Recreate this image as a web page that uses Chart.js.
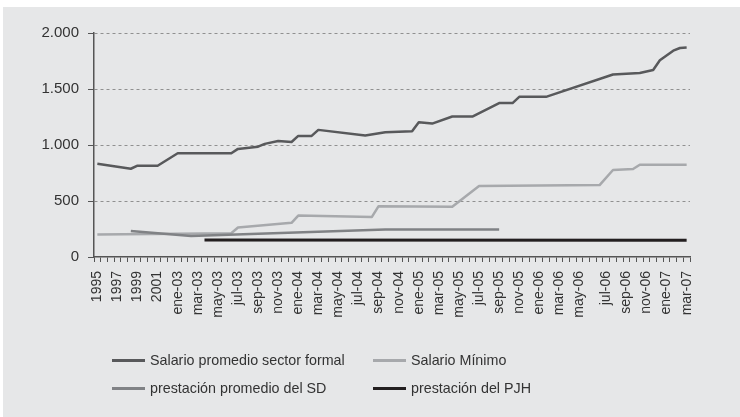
<!DOCTYPE html>
<html>
<head>
<meta charset="utf-8">
<script src="https://cdn.jsdelivr.net/npm/chart.js@4.4.0/dist/chart.umd.min.js"></script>
<style>
html,body{margin:0;padding:0;background:#ffffff;}
#wrap{position:relative;width:740px;height:417px;overflow:hidden;}
#panel{position:absolute;left:3px;top:7px;right:0;bottom:0;background:#e6e7e8;}
#c{position:absolute;left:0;top:0;}
.leg{position:absolute;height:16px;font:14.3px "Liberation Sans",Arial,sans-serif;line-height:16px;color:#333;white-space:nowrap;}
.leg .s{position:absolute;left:0;top:7px;width:33px;height:3px;}
.leg .t{position:absolute;left:38px;top:0;}
</style>
</head>
<body>
<div id="wrap">
  <div id="panel"></div>
  <canvas id="c" width="740" height="417"></canvas>
  <div id="legend"></div>
</div>
<script>
// ---- data ----
const categories = [
 '1995','','', '1997','','', '1999','','', '2001','','',
 'ene-03','','', 'mar-03','','', 'may-03','','', 'jul-03','','', 'sep-03','','', 'nov-03','','',
 'ene-04','','', 'mar-04','','', 'may-04','','', 'jul-04','','', 'sep-04','','', 'nov-04','','',
 'ene-05','','', 'mar-05','','', 'may-05','','', 'jul-05','','', 'sep-05','','', 'nov-05','','',
 'ene-06','','', 'mar-06','','', 'may-06','','','', 'jul-06','','', 'sep-06','','', 'nov-06','','',
 'ene-07','','', 'mar-07'
];
const seriesNames = ['Salario promedio sector formal','Salario Mínimo','prestación promedio del SD','prestación del PJH'];
const yTickLabels = ['0','500','1.000','1.500','2.000'];

const formalIdx = [0,5,6,9,12,20,21,24,25,27,29,30,32,33,40,43,47,48,50,53,56,60,62,63,67,77,81,83,84,86,87,88];
const formalVal = [833,788,815,815,926,926,965,985,1010,1036,1027,1081,1081,1135,1085,1114,1123,1204,1191,1254,1254,1374,1374,1430,1430,1630,1643,1670,1756,1842,1866,1870];

const minimoIdx = [0,20,21,29,30,41,42,53,57,75,77,80,81,88];
const minimoVal = [200,212,263,305,370,358,454,448,633,642,777,786,824,824];

const sdIdx = [5,14,43,60];
const sdVal = [233,187,245,245];

const pjhIdx = [16,88];
const pjhVal = [152,150];

const colors = ['#58595b','#a7a9ac','#808285','#231f20'];
const widths = [2.5,2.5,2.5,3];

function sparse(idx, vals){
  const a = new Array(categories.length).fill(null);
  idx.forEach((k,j)=>{ a[k] = vals[j]; });
  return a;
}
const seriesData = [sparse(formalIdx,formalVal), sparse(minimoIdx,minimoVal), sparse(sdIdx,sdVal), sparse(pjhIdx,pjhVal)];

const FONT = '"Liberation Sans", Arial, sans-serif';

new Chart(document.getElementById('c'), {
  type: 'line',
  data: {
    labels: categories,
    datasets: seriesData.map((d,k)=>({
      label: seriesNames[k],
      data: d,
      borderColor: colors[k],
      backgroundColor: colors[k],
      borderWidth: widths[k],
      spanGaps: true,
      pointRadius: 0,
      tension: 0,
      fill: false,
      order: 3 - k
    }))
  },
  options: {
    responsive: false,
    animation: false,
    devicePixelRatio: 1,
    layout: { padding: { top: 33, right: 50, left: 0, bottom: 0 } },
    plugins: { legend: { display: false }, tooltip: { enabled: false } },
    elements: { line: { borderJoinStyle: 'round', borderCapStyle: 'butt' } },
    scales: {
      x: {
        type: 'category',
        offset: true,
        grid: { offset: true, drawOnChartArea: false, drawTicks: true, tickLength: 5, tickColor: '#555', tickWidth: 1 },
        border: { color: '#555', width: 1.5 },
        ticks: { autoSkip: false, minRotation: 90, maxRotation: 90, padding: 9, color: '#333', font: { family: FONT, size: 14 } },
        afterFit(s){ s.height = 417 - 257; }
      },
      y: {
        min: 0, max: 2000,
        grid: {
          color: (c)=> (c.tick && c.tick.value === 0) ? 'rgba(0,0,0,0)' : '#909090',
          lineWidth: 1, tickLength: 6, tickColor: '#555', tickWidth: 1
        },
        border: { color: '#555', width: 1.5, dash: [3,3] },
        ticks: { stepSize: 500, padding: 9, color: '#333', font: { family: FONT, size: 15 },
                 callback: (v)=> yTickLabels[Math.round(v/500)] },
        afterFit(s){ s.width = 94; }
      }
    }
  }
});

// ---- HTML legend ----
const legendPos = [[112,352],[373,352],[112,380],[373,380]];
const leg = document.getElementById('legend');
seriesNames.forEach((n,k)=>{
  const d = document.createElement('div');
  d.className = 'leg';
  d.style.left = legendPos[k][0] + 'px';
  d.style.top = legendPos[k][1] + 'px';
  const s = document.createElement('div'); s.className = 's'; s.style.background = colors[k];
  s.style.height = widths[k] + 'px';
  const t = document.createElement('div'); t.className = 't'; t.textContent = n;
  d.appendChild(s); d.appendChild(t);
  leg.appendChild(d);
});
</script>
</body>
</html>
